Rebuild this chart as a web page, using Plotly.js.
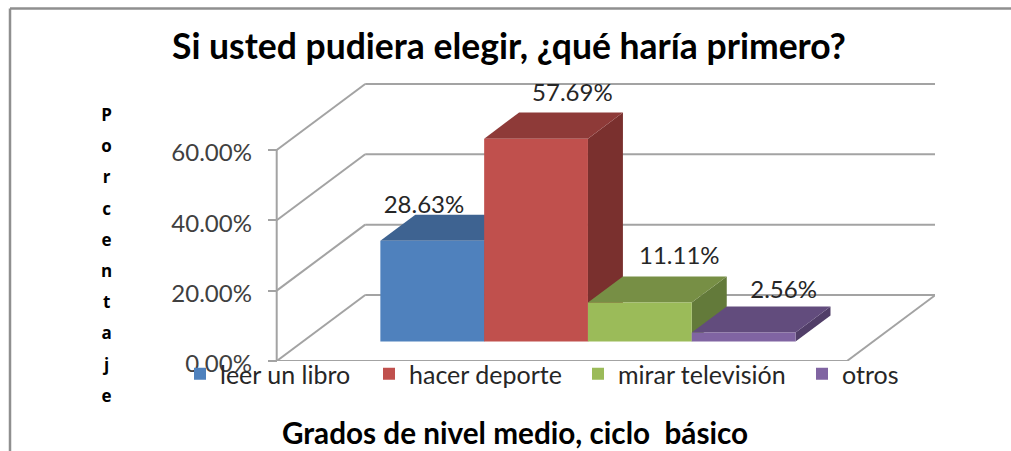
<!DOCTYPE html>
<html><head><meta charset="utf-8">
<script src="https://cdn.plot.ly/plotly-3.0.1.min.js"></script>
<style>html,body{margin:0;padding:0;background:#fff}#c{width:1011px;height:451px}</style>
</head><body><div id="c"></div>
<script>
const categories = ['leer un libro','hacer deporte','mirar televisión','otros'];
const values = [28.63,57.69,11.11,2.56];
const labels = ['28.63%','57.69%','11.11%','2.56%'];
const colors = ['#4f81bd','#c0504d','#9bbb59','#8064a2'];
const topColors = ['#3e6391','#8e3a38','#778f45','#624c7d'];
const sideColors = ['#33527a','#7a302e','#637a3a','#513e68'];
const yTicks = [0,20,40,60];
const yTickText = ['0.00%','20.00%','40.00%','60.00%'];
const labelNudgeX = [-0.08,0.35,0.38,0.385];
const labelNudgeY = [9.7,12.4,12.5,11.4];
const legendLeftPx = [180,369,578,802];
const axisTitleY = 'Porcentaje';

// projection: 1 x unit = one bar width; 1 y unit = one percent
const W=1011,H=451,L=95,R=76,T=83,B=90;
const PW=W-L-R, PH=H-T-B;
const unitX=103.8, unitY=3.517;
const xMin=(L-276.7)/unitX, xMax=(W-R-276.7)/unitX;
const yMax=PH/unitY;
const wallDX=88.5/unitX, wallDY=66/unitY;   // full floor depth
const floorW=570.3/unitX;
const liftF=0.295, liftB=0.69;              // depth of bars' front and back within the floor
const barStart=(floorW-categories.length)/2+liftF*wallDX;

const line={color:'#a3a3a3',width:2};
const seg=(x0,y0,x1,y1)=>({type:'line',layer:'below',xref:'x',yref:'y',x0,y0,x1,y1,line});
const poly=(pts,fill)=>({type:'path',layer:'below',xref:'x',yref:'y',
  path:'M'+pts.map(p=>p[0]+','+p[1]).join('L')+'Z',fillcolor:fill,line:{width:0}});

const shapes=[];
// walls and floor
yTicks.forEach(t=>{
  shapes.push(seg(0,t,wallDX,t+wallDY));
  shapes.push(seg(wallDX,t+wallDY,floorW+wallDX,t+wallDY));
});
shapes.push(seg(0,0,0,yTicks[yTicks.length-1]));
shapes.push(seg(0,0,floorW,0));
shapes.push(seg(floorW,0,floorW+wallDX,wallDY));
// depth faces of the bars
const d=liftB-liftF, dx=d*wallDX, dy=d*wallDY, base=liftF*wallDY;
values.forEach((v,i)=>{
  const x0=barStart+i, x1=x0+1, t=base+v;
  shapes.push(poly([[x1,base],[x1+dx,base+dy],[x1+dx,t+dy],[x1,t]],sideColors[i]));
  shapes.push(poly([[x0,t],[x0+dx,t+dy],[x1+dx,t+dy],[x1,t]],topColors[i]));
});
// outer frame of the chart (top and left edge only)
const fx=p=>(p-L)/PW, fy=p=>(H-B-p)/PH;
const frame={color:'#8f8f8f',width:2.5};
shapes.push({type:'line',xref:'paper',yref:'paper',x0:fx(10),y0:fy(8.5),x1:fx(W),y1:fy(8.5),line:frame});
shapes.push({type:'line',xref:'paper',yref:'paper',x0:fx(10),y0:fy(8.5),x1:fx(10),y1:fy(H),line:frame});

const legendKeys=['legend','legend2','legend3','legend4'];
const traces=categories.map((c,i)=>({
  type:'bar',name:c,x:[barStart+i+0.5],y:[values[i]],base:[base],width:[1],legend:legendKeys[i],
  marker:{color:colors[i],line:{width:0}},hoverinfo:'name+y'
}));
traces.push({
  type:'scatter',mode:'text',showlegend:false,hoverinfo:'skip',cliponaxis:false,
  x:values.map((v,i)=>barStart+i+0.5+labelNudgeX[i]),
  y:values.map((v,i)=>base+v+labelNudgeY[i]),
  text:labels,textposition:'middle center',
  textfont:{family:'Lato',size:24,color:'#262626'}
});

const layout={
  width:W,height:H,autosize:false,paper_bgcolor:'#fff',plot_bgcolor:'rgba(0,0,0,0)',
  margin:{l:L,r:R,t:T,b:B,pad:0},showlegend:true,barmode:'overlay',
  title:{text:'<b>Si usted pudiera elegir, ¿qué haría primero?</b>',x:509/W,xanchor:'center',y:1-47/H,yanchor:'middle',
    font:{family:'Lato',size:35.5,color:'#000'}},
  xaxis:{range:[xMin,xMax],showgrid:false,zeroline:false,showline:false,showticklabels:false,ticks:'',
    title:{text:'<b>Grados de nivel medio, ciclo  básico</b>',standoff:62,font:{family:'Lato',size:29.7,color:'#000'}}},
  yaxis:{range:[0,yMax],anchor:'free',position:(276.7-L)/PW,showgrid:false,zeroline:false,showline:false,
    tickmode:'array',tickvals:yTicks,ticktext:yTickText,ticks:'outside',ticklen:9,tickwidth:2,tickcolor:'#a3a3a3',
    tickfont:{family:'Lato',size:24,color:'#404040'},ticklabelstandoff:11,ticklabelshift:3},
  shapes,
  annotations:[{xref:'paper',yref:'paper',x:fx(106),y:fy(255),xanchor:'center',yanchor:'middle',showarrow:false,
    align:'center',font:{family:'Open Sans',size:24,color:'#000'},
    text:axisTitleY.split('').map(ch=>'<span style="font-size:17px"><b>'+ch+'</b></span>').join('<br>')}]
};
legendKeys.forEach((k,i)=>{
  layout[k]={orientation:'h',x:fx(legendLeftPx[i]),xanchor:'left',y:fy(351),yanchor:'top',bgcolor:'rgba(0,0,0,0)',
    font:{family:'Lato',size:25,color:'#262626'},itemwidth:30,itemclick:false,itemdoubleclick:false};
});
Plotly.newPlot('c',traces,layout,{displayModeBar:false,staticPlot:true});
</script></body></html>
